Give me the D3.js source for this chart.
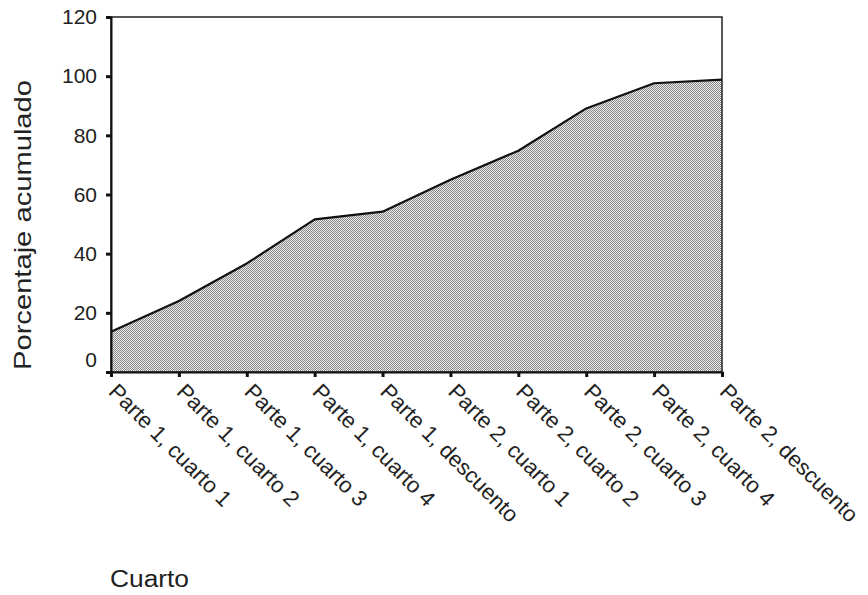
<!DOCTYPE html>
<html>
<head>
<meta charset="utf-8">
<script src="https://cdn.jsdelivr.net/npm/d3@7"></script>
<style>
  body { margin: 0; background: #fff; }
  text { font-family: "Liberation Sans", Arial, sans-serif; fill: #222; }
</style>
</head>
<body>
<div id="chart"></div>
<script>
// data
const categories = [
  "Parte 1, cuarto 1", "Parte 1, cuarto 2", "Parte 1, cuarto 3", "Parte 1, cuarto 4",
  "Parte 1, descuento", "Parte 2, cuarto 1", "Parte 2, cuarto 2", "Parte 2, cuarto 3",
  "Parte 2, cuarto 4", "Parte 2, descuento"
];
const cumulative = [13.6, 24, 36.7, 51.6, 54.2, 65, 74.8, 89.1, 97.6, 98.8];
const yTicks = [0, 20, 40, 60, 80, 100, 120];

const margin = {top: 17, right: 146, bottom: 223, left: 111},
  width = 868 - margin.left - margin.right,
  height = 595 - margin.top - margin.bottom;

const root = d3.select("#chart")
  .append("svg")
    .attr("width", 868)
    .attr("height", 595);

// stippled grey fill
const pat = root.append("defs").append("pattern")
  .attr("id", "dots")
  .attr("patternUnits", "userSpaceOnUse")
  .attr("width", 2).attr("height", 2);
pat.append("rect").attr("width", 2).attr("height", 2).attr("fill", "#ececec");
pat.append("rect").attr("width", 1).attr("height", 1).attr("fill", "#888");
pat.append("rect").attr("x", 1).attr("y", 1).attr("width", 1).attr("height", 1).attr("fill", "#888");

const svg = root.append("g")
  .attr("transform", "translate(" + margin.left + "," + margin.top + ")");

const x = d3.scalePoint()
  .domain(categories)
  .range([0, width]);

const y = d3.scaleLinear()
  .domain([0, 120])
  .range([height, 0]);

const data = categories.map((c, i) => ({cat: c, val: cumulative[i]}));

// area + outline
svg.append("path")
  .datum(data)
  .attr("fill", "url(#dots)")
  .attr("d", d3.area()
    .x(d => x(d.cat))
    .y0(y(0))
    .y1(d => y(d.val)));

svg.append("path")
  .datum(data)
  .attr("fill", "none")
  .attr("stroke", "#111")
  .attr("stroke-width", 2.2)
  .attr("stroke-linejoin", "round")
  .attr("d", d3.line()
    .x(d => x(d.cat))
    .y(d => y(d.val)));

// frame
svg.append("rect")
  .attr("width", width)
  .attr("height", height)
  .attr("fill", "none")
  .attr("stroke", "#222")
  .attr("stroke-width", 1.5);

// Y axis
const yAxis = svg.append("g")
  .call(d3.axisLeft(y).tickValues(yTicks).tickSize(5).tickPadding(9));
yAxis.select(".domain").attr("stroke", "#111").attr("stroke-width", 2);
yAxis.selectAll(".tick line").attr("stroke", "#111").attr("stroke-width", 3);
yAxis.selectAll(".tick text")
  .style("font-size", "21px")
  .style("font-family", "Liberation Sans, Arial, sans-serif")
  .attr("fill", "#222")
  .attr("dy", d => d === 0 ? "-0.25em" : "0.32em");

// X axis
const xAxis = svg.append("g")
  .attr("transform", "translate(0," + height + ")")
  .call(d3.axisBottom(x).tickSize(5).tickPadding(0));
xAxis.select(".domain").attr("stroke", "#111").attr("stroke-width", 2);
xAxis.selectAll(".tick line").attr("stroke", "#111").attr("stroke-width", 3);
xAxis.selectAll(".tick text")
  .style("font-size", "22px")
  .style("font-family", "Liberation Sans, Arial, sans-serif")
  .attr("fill", "#222")
  .attr("text-anchor", "start")
  .attr("x", 12)
  .attr("y", 2)
  .attr("dy", "0.71em")
  .attr("transform", "rotate(45)");

// axis titles
root.append("text")
  .attr("transform", "translate(31,225) rotate(-90)")
  .attr("text-anchor", "middle")
  .style("font-size", "24px")
  .attr("textLength", 290)
  .attr("lengthAdjust", "spacingAndGlyphs")
  .text("Porcentaje acumulado");

root.append("text")
  .attr("x", 110)
  .attr("y", 587)
  .style("font-size", "23px")
  .attr("textLength", 79)
  .attr("lengthAdjust", "spacingAndGlyphs")
  .text("Cuarto");
</script>
</body>
</html>
